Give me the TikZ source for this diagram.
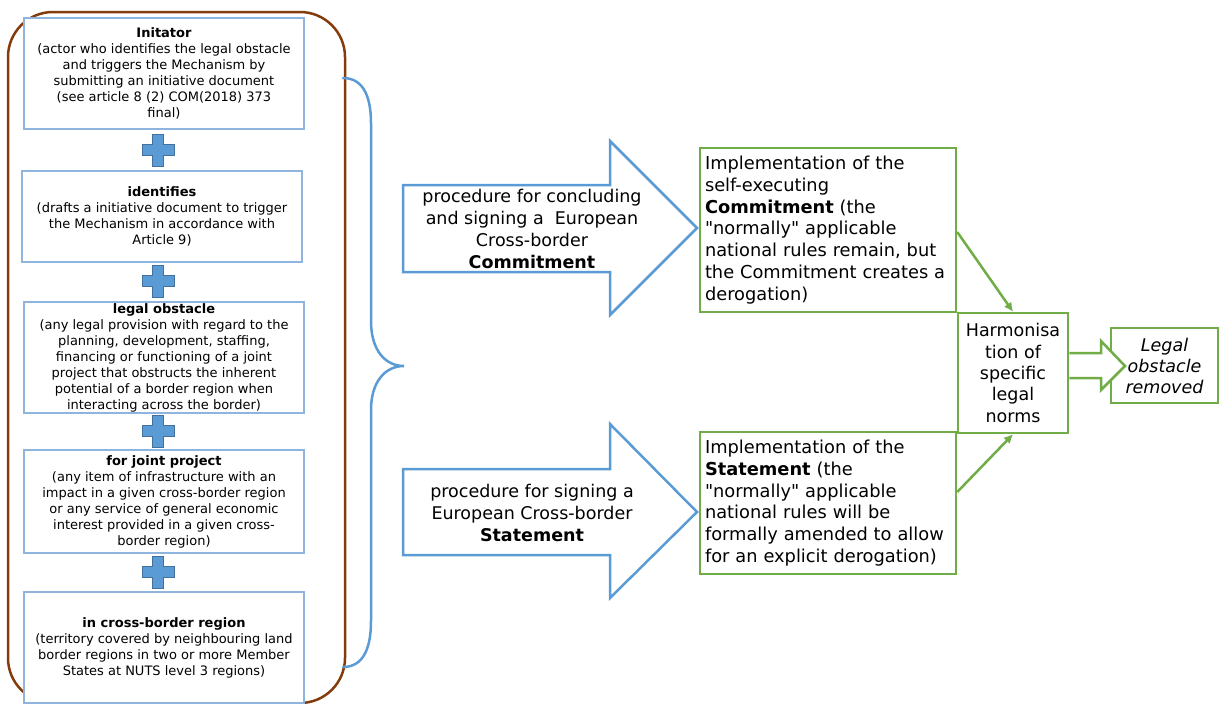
\documentclass[tikz,border=0pt]{standalone}
\usepackage{fontspec}
\setmainfont{DejaVu Sans}
% same face without the TeX input mapping, for straight quotes
\newfontfamily\plainface{DejaVu Sans}
\usetikzlibrary{arrows.meta,calc}

\definecolor{framebrown}{RGB}{133,60,12}
\definecolor{paleblue}{RGB}{143,180,222}
\definecolor{midblue}{RGB}{91,155,213}
\definecolor{darkblue}{RGB}{65,113,156}
\definecolor{leafgreen}{RGB}{112,173,71}

\newcommand{\sq}{{\plainface"}}

\begin{document}
\begin{tikzpicture}[x=1pt,y=-1pt,
  termbox/.style={draw=paleblue, line width=1.4pt, fill=white,
    minimum width=280pt, inner sep=0pt, align=center,
    font=\fontsize{13}{16}\selectfont},
  plusmark/.style={fill=midblue, draw=darkblue, line width=0.6pt},
  blockarrow/.style={draw=midblue, line width=2.5pt, fill=white, line join=miter},
  arrowtext/.style={align=center, inner sep=0pt, font=\fontsize{17.5}{21.7}\selectfont},
  greenbox/.style={draw=leafgreen, line width=2.5pt, fill=white, inner sep=0pt,
    minimum width=256pt, text width=246pt, align=left,
    font=\fontsize{17.8}{21.7}\selectfont},
  smallgreen/.style={draw=leafgreen, line width=2.5pt, fill=white, inner sep=0pt,
    align=center, font=\fontsize{17.5}{21.3}\selectfont},
  greenlink/.style={draw=leafgreen, line width=2.5pt,
    -{Latex[length=9pt,width=9pt]}},
  bracket/.style={draw=midblue, line width=2.5pt, line cap=round}
]
\useasboundingbox (0,0) rectangle (1219,704);

% outer frame around the definition boxes
\draw[framebrown, line width=2.5pt, rounded corners=45pt] (8,12) rectangle (345,703);

% definition boxes
\node[termbox, minimum height=111pt] (initator) at (164,73.5)
  {\textbf{Initator}\\(actor who identifies the legal obstacle\\and triggers the Mechanism by\\submitting an initiative document\\(see article 8 (2) COM(2018) 373\\final)};
\node[termbox, minimum height=91pt] (identifies) at (162,216.5)
  {\textbf{identifies}\\(drafts a initiative document to trigger\\the Mechanism in accordance with\\Article 9)};
\node[termbox, minimum height=111pt] (obstacle) at (164,357.5)
  {\textbf{legal obstacle}\\(any legal provision with regard to the\\planning, development, staffing,\\financing or functioning of a joint\\project that obstructs the inherent\\potential of a border region when\\interacting across the border)};
\node[termbox, minimum height=103pt] (project) at (164,501.5)
  {\textbf{for joint project}\\(any item of infrastructure with an\\impact in a given cross-border region\\or any service of general economic\\interest provided in a given cross-\\border region)};
\node[termbox, minimum height=111pt] (region) at (164,647.5)
  {\textbf{in cross-border region}\\(territory covered by neighbouring land\\border regions in two or more Member\\States at NUTS level 3 regions)};

% plus signs between the boxes
\foreach \py in {150,281,431,572}{
  \begin{scope}[shift={(158,\py)}]
    \draw[plusmark] (-5.5,-16) -- (5.5,-16) -- (5.5,-5.5) -- (16,-5.5) -- (16,5.5)
      -- (5.5,5.5) -- (5.5,16) -- (-5.5,16) -- (-5.5,5.5) -- (-16,5.5)
      -- (-16,-5.5) -- (-5.5,-5.5) -- cycle;
  \end{scope}
}

% curly bracket grouping the definitions
\coordinate (bracetop) at (343,78);
\coordinate (bracetip) at (404,366);
\coordinate (bracebot) at (343,667);
\draw[bracket] (bracetop) .. controls (365,78) and (371,100) .. (371,123)
  -- (371,321) .. controls (371,350) and (385,366) .. (bracetip)
  .. controls (385,366) and (371,382) .. (371,410)
  -- (371,621) .. controls (371,645) and (365,667) .. (bracebot);

% procedure arrows
\draw[blockarrow] (403,185) -- (610,185) -- (610,141) -- (697,228) -- (610,315)
  -- (610,272) -- (403,272) -- cycle;
\node[arrowtext] (commitproc) at (532,229)
  {procedure for concluding\\and signing a\ \ European\\Cross-border\\\textbf{Commitment}};
\draw[blockarrow] (403,469) -- (610,469) -- (610,424) -- (697,512) -- (610,598)
  -- (610,555) -- (403,555) -- cycle;
\node[arrowtext] (stateproc) at (532,513)
  {procedure for signing a\\European Cross-border\\\textbf{Statement}};

% implementation boxes
\node[greenbox, minimum height=164pt] (commitimpl) at (828,230)
  {Implementation of the\\self-executing\\\textbf{Commitment} (the\\\sq normally\sq{} applicable\\national rules remain, but\\the Commitment creates a\\derogation)};
\node[greenbox, minimum height=142pt] (stateimpl) at (828,503)
  {Implementation of the\\\textbf{Statement} (the\\\sq normally\sq{} applicable\\national rules will be\\formally amended to allow\\for an explicit derogation)};

% harmonisation and result
\node[smallgreen, minimum width=110pt, minimum height=120pt] (harmon) at (1013,373)
  {Harmonisa\\tion of\\specific\\legal\\norms};
\node[smallgreen, minimum width=107pt, minimum height=75pt,
  font=\fontsize{17.5}{21}\selectfont\itshape] (removed) at (1164.5,365.5)
  {Legal\\obstacle\\removed};

\draw[greenlink] ($(commitimpl.east)+(0,2)$) -- (harmon.north);
\draw[greenlink] ($(stateimpl.east)+(0,-11)$) -- (harmon.south);

% small block arrow to the result
\draw[draw=leafgreen, line width=2.5pt, fill=white, line join=miter]
  (harmon.east |- 0,353) -- (1101,353) -- (1101,341) -- (1125,366) -- (1101,390)
  -- (1101,378) -- (harmon.east |- 0,378);
\end{tikzpicture}
\end{document}
